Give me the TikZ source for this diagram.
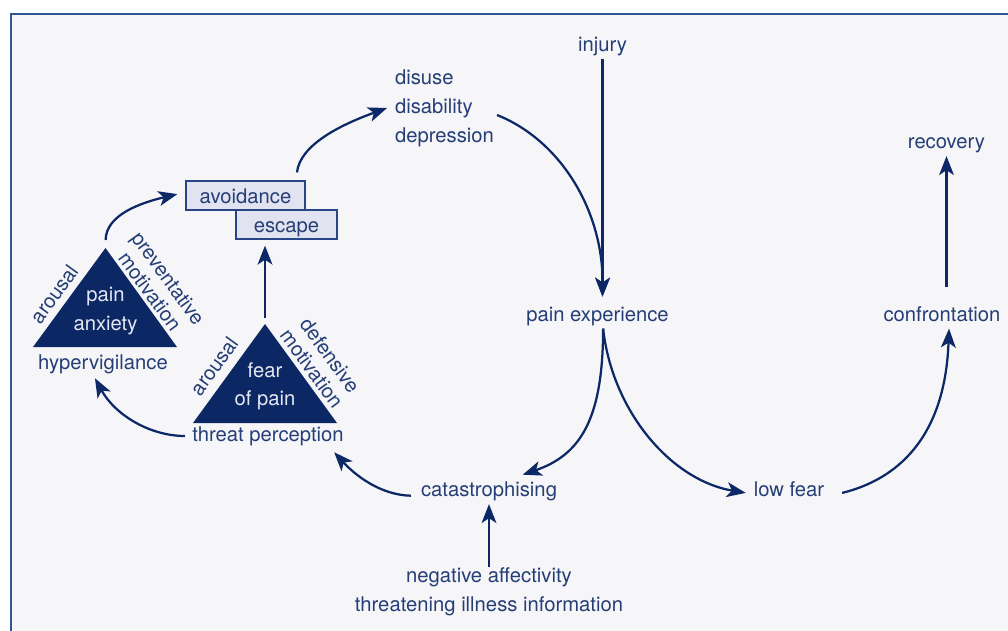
\documentclass[tikz,border=0pt]{standalone}
\usepackage{fontspec}
\setmainfont{TeX Gyre Heros}
\usetikzlibrary{arrows.meta}
\definecolor{bgcol}{RGB}{246,246,249}
\definecolor{framecol}{RGB}{50,85,150}
\definecolor{txtblue}{RGB}{38,62,118}
\definecolor{arrblue}{RGB}{12,40,102}
\definecolor{triblue}{RGB}{12,40,100}
\definecolor{tritext}{RGB}{228,231,242}
\definecolor{boxfill}{RGB}{225,227,240}
\definecolor{boxline}{RGB}{40,70,135}
\begin{document}
\begin{tikzpicture}[x=0.025cm,y=-0.025cm,
   lbl/.style={text=txtblue,font=\fontsize{14.4pt}{20.6pt}\selectfont,inner sep=2pt,text height=10.5pt,text depth=3pt},
   lbls/.style={text=txtblue,font=\fontsize{14.4pt}{20.6pt}\selectfont,inner sep=2pt},
   side/.style={text=txtblue,font=\fontsize{14.4pt}{16pt}\selectfont,inner sep=0pt,align=center},
   tritxt/.style={text=tritext,font=\fontsize{14.4pt}{20pt}\selectfont,inner sep=0pt,align=center},
   box/.style={draw=boxline,fill=boxfill,line width=0.8pt,minimum height=20.6pt,inner sep=0pt,
      text height=14pt,text depth=3pt,text=txtblue,font=\fontsize{14.4pt}{17pt}\selectfont},
   flow/.style={draw=arrblue,line width=1.6pt,-{Stealth[length=13.5pt,width=10.5pt,inset=3.5pt]}}]
   \useasboundingbox (0,0) rectangle (1008,631);
   \fill[bgcol] (11,14) rectangle (1008,631);
   \draw[framecol,line width=1.4pt] (11,631) -- (11,14) -- (1008,14);

   \fill[triblue] (33,347) -- (105.5,248) coordinate (patop) -- (177,347) -- cycle;
   \fill[triblue] (193,423) -- (265,324) coordinate (ftop) -- (337,423) -- cycle;
   \node[tritxt] (anx) at (105.5,311) {pain\\anxiety};
   \node[tritxt] (fear) at (265,386.5) {fear\\of pain};
   \node[side,rotate=54] (arA) at (54,294) {arousal};
   \node[side,rotate=-54] (prev) at (159,285) {preventative\\motivation};
   \node[side,rotate=54] (arB) at (214,366) {arousal};
   \node[side,rotate=-54] (defn) at (321,362) {defensive\\motivation};

   \node[lbl] (inj) at (602.5,46) {injury};
   \node[lbls,align=left,anchor=west] (dis) at (392,108) {disuse\\disability\\depression};
   \node[box,minimum width=84.6pt] (av) at (245.5,195.5) {avoidance};
   \node[box,minimum width=71.8pt] (esc) at (286.5,224.5) {escape};
   \node[lbl] (pe) at (597.5,316) {pain experience};
   \node[lbl] (rec) at (946.5,143.5) {recovery};
   \node[lbl] (conf) at (942,316) {confrontation};
   \node[lbl] (lf) at (789,491.5) {low fear};
   \node[lbl] (cat) at (489,491.5) {catastrophising};
   \node[lbl] (tp) at (268,436) {threat perception};
   \node[lbl] (hv) at (103,364) {hypervigilance};
   \node[lbls,align=center,inner sep=0pt] (neg) at (489,591.5) {negative affectivity\\threatening illness information};

   \draw[flow,shorten >=4.8pt] (inj.south) -- (inj.south |- pe.north);
   \draw[flow,shorten >=4.8pt] ([yshift=-5pt]dis.east) .. controls (560,140) and (603,210) .. (inj.south |- pe.north);
   \draw[flow] ([xshift=4pt]pe.south) .. controls (603,420) and (580,455) .. ([xshift=24pt,yshift=3pt]cat.north);
   \draw[flow] ([xshift=4pt]pe.south) .. controls (612,410) and (670,480) .. ([xshift=-3.5pt,yshift=-1pt]lf.west);
   \draw[flow] ([xshift=10.5pt,yshift=-1pt]lf.east) .. controls (895,480) and (945,440) .. ([xshift=5pt]conf.south);
   \draw[flow,shorten <=12pt] (conf.north -| rec.south) -- (rec.south);
   \draw[flow] ([xshift=-5pt,yshift=-3pt]cat.west) .. controls (380,495) and (355,475) .. ([xshift=-9pt,yshift=-2.6pt]tp.south east);
   \draw[flow] ([xshift=-3pt]tp.west) .. controls (150,436) and (115,415) .. ([xshift=-5.7pt,yshift=-1.2pt]hv.south);
   \draw[flow] (neg.north) -- (cat.south);
   \draw[flow,shorten <=4.3pt,shorten >=4.3pt] (ftop) -- (ftop |- esc.south);
   \draw[flow,shorten <=5.7pt] (patop) .. controls (106,215) and (140,203) .. ([xshift=-5.7pt,yshift=1pt]av.west);
   \draw[flow] ([xshift=36.6pt,yshift=5.7pt]av.north) .. controls (300,145) and (340,125) .. ([xshift=-3.5pt]dis.west);
\end{tikzpicture}
\end{document}
